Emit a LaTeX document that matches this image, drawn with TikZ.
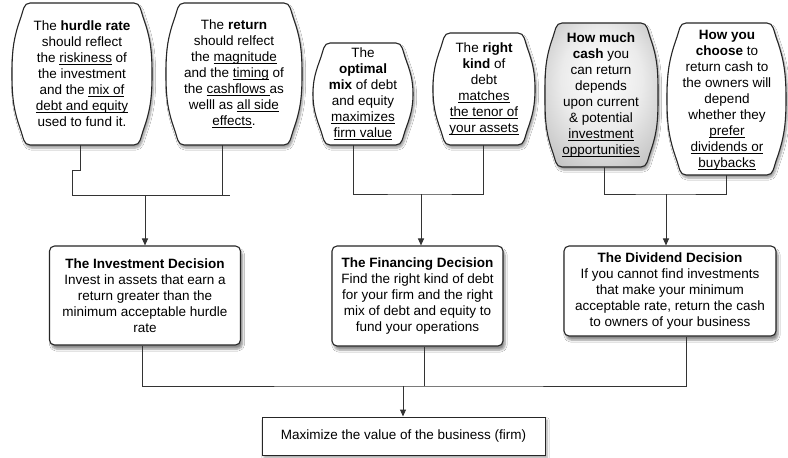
\documentclass[tikz,border=0pt]{standalone}
\usepackage{fontspec}
\setmainfont{Liberation Sans}
\usetikzlibrary{arrows.meta,shadows.blur,calc}

\newcommand\uln[1]{\setbox0\hbox{#1}\rlap{\rule[-2pt]{\wd0}{0.7pt}}\box0\relax}

\pgfdeclareradialshading{cashshade}{\pgfpoint{0bp}{8bp}}{color(0bp)=(white); color(18bp)=(white!92!black); color(40bp)=(black!30); color(50bp)=(black!42)}

\tikzset{
 barrel/.style={draw=black!85, line width=1.1pt, fill=white,
   blur shadow={shadow xshift=1.5pt, shadow yshift=-3pt, shadow blur steps=6, shadow opacity=40}},
 btext/.style={align=center, font=\fontsize{13.5}{16}\selectfont, inner sep=0pt},
 decision/.style={draw=black!85, line width=1.1pt, rounded corners=5pt, fill=white,
   align=center, font=\fontsize{13.5}{16}\selectfont, inner sep=0pt,
   blur shadow={shadow xshift=2pt, shadow yshift=-4pt, shadow blur steps=6, shadow opacity=45}},
 goalbox/.style={draw=black!85, line width=1pt, fill=white,
   align=center, font=\fontsize{13.5}{16}\selectfont, inner sep=0pt,
   blur shadow={shadow xshift=2pt, shadow yshift=-3pt, shadow blur steps=6, shadow opacity=35}},
 conn/.style={draw=black!80, line width=1pt},
 arr/.style={conn, -{Triangle[length=7pt,width=6pt]}},
}

% \barrel[style]{xl}{yt}{xr}{yb}{inset}
\newcommand\barrel[6][]{%
 \draw[barrel,#1] ({#2+#6+5},-#3) -- ({#4-#6-5},-#3)
   to[out=0,in=110] ({#4-#6+4},{-#3-14})
   to[out=-70,in=90] (#4,{-(#3+#5)/2})
   to[out=-90,in=70] ({#4-#6+4},{-#5+14})
   to[out=-110,in=0] ({#4-#6-5},-#5)
   -- ({#2+#6+5},-#5)
   to[out=180,in=-70] ({#2+#6-4},{-#5+14})
   to[out=110,in=-90] (#2,{-(#3+#5)/2})
   to[out=90,in=-110] ({#2+#6-4},{-#3-14})
   to[out=70,in=180] cycle;}

\begin{document}
\begin{tikzpicture}[x=1pt,y=1pt]
\useasboundingbox[fill=white] (0,0) rectangle (788,-458);

% top boxes
\barrel{12}{3}{152}{145}{13}
\barrel{166}{3}{302}{145}{13}
\barrel{313}{43}{413}{145}{12}
\barrel{433}{33}{535}{145}{12}
\barrel[shade,shading=cashshade]{545}{23}{658}{167}{12}
\barrel{667}{23}{786}{175}{14}

\node[btext] (t1) at (82,-74) {The \textbf{hurdle rate}\\ should reflect\\ the \uln{riskiness} of\\ the investment\\ and the \uln{mix of}\\ \uln{debt and equity}\\ used to fund it.};
\node[btext] (t2) at (234,-74) {The \textbf{return}\\ should relfect\\ the \uln{magnitude}\\ and the \uln{timing} of\\ the \uln{cashflows\ }as\\ welll as \uln{all side}\\ \uln{effects}.};
\node[btext] (t3) at (363,-94) {The\\ \textbf{optimal}\\ \textbf{mix} of debt\\ and equity\\ \uln{maximizes}\\ \uln{firm value}};
\node[btext] (t4) at (484,-89) {The \textbf{right}\\ \textbf{kind} of\\ debt\\ \uln{matches}\\ \uln{the tenor of}\\ \uln{your assets}};
\node[btext] (t5) at (601,-95) {\textbf{How much}\\ \textbf{cash} you\\ can return\\ depends\\ upon current\\ \& potential\\ \uln{investment}\\ \uln{opportunities}};
\node[btext] (t6) at (727,-100) {\textbf{How you}\\ \textbf{choose} to\\ return cash to\\ the owners will\\ depend\\ whether they\\ \uln{prefer}\\ \uln{dividends or}\\ \uln{buybacks}};

\coordinate (t1b) at (80,-145);
\coordinate (t2b) at (222,-145);
\coordinate (t3b) at (353,-145);
\coordinate (t4b) at (483,-145);
\coordinate (t5b) at (604,-167);
\coordinate (t6b) at (726,-175);

% decision boxes
\node[decision, minimum width=191pt, minimum height=99pt] (inv) at (145,-295.5)
 {\textbf{The Investment Decision}\\ Invest in assets that earn a\\ return greater than the\\ minimum acceptable hurdle\\ rate};
\node[decision, minimum width=171pt, minimum height=100pt] (fin) at (417.5,-296)
 {\textbf{The Financing Decision}\\ Find the right kind of debt\\ for your firm and the right\\ mix of debt and equity to\\ fund your operations};
\node[decision, minimum width=212pt, minimum height=90pt] (div) at (670,-291)
 {\textbf{The Dividend Decision}\\ If you cannot find investments\\ that make your minimum\\ acceptable rate, return the cash\\ to owners of your business};
\node[goalbox, minimum width=283pt, minimum height=38pt] (max) at (403.5,-436)
 {Maximize the value of the business (firm)};

% connectors, top
\coordinate (j1) at (145,-195);
\coordinate (j1w) at (72,-195);
\coordinate (j1e) at (230,-195);
\draw[conn] (t1b) -- ++(0,-25) -| (j1w) -- (j1e);
\draw[conn] (t2b) -- (t2b |- j1);
\draw[arr] (j1) -- (j1 |- inv.north);

\coordinate (j2) at (421,-194);
\draw[conn] (t3b) |- (j2) -| (t4b);
\draw[arr] (j2) -- (j2 |- fin.north);

\coordinate (j3) at (666,-194);
\draw[conn] (t5b) |- (j3) -| (t6b);
\draw[arr] (j3) -- (j3 |- div.north);

% connectors, bottom
\coordinate (jb) at (403,-386);
\draw[conn] ([xshift=-3pt]inv.south) |- (jb) -| ([xshift=16pt]div.south);
\draw[conn] ([xshift=6.5pt]fin.south) -- ([xshift=6.5pt]fin.south |- jb);
\draw[arr] (jb) -- (jb |- max.north);
\end{tikzpicture}
\end{document}
